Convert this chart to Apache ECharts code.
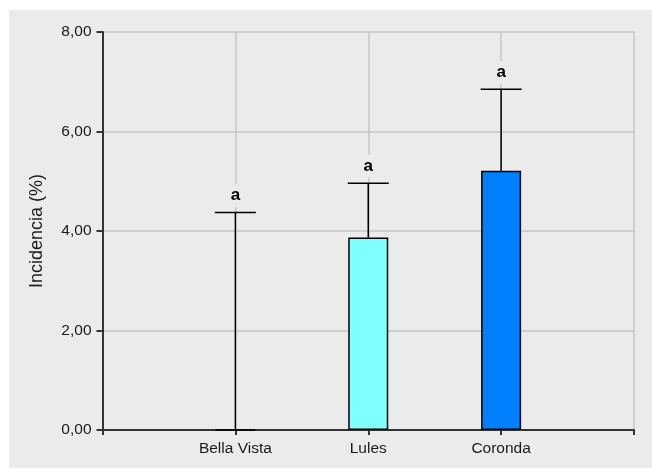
<!DOCTYPE html>
<html>
<head>
<meta charset="utf-8">
<script src="https://cdn.jsdelivr.net/npm/echarts@6/dist/echarts.min.js"></script>
<style>
  html, body { margin: 0; padding: 0; background: #ffffff; }
  #panel { position: absolute; left: 9px; top: 10px; width: 643px; height: 458px; background: #ebebeb; }
  #chart { position: absolute; left: 0; top: 0; width: 652px; height: 470px; }
</style>
</head>
<body>
<div id="panel"></div>
<div id="chart"></div>
<script>
// Incidencia media por localidad, con error superior y letra de significancia
const categories = ['Bella Vista', 'Lules', 'Coronda'];
const incidencia = [0, 3.87, 5.21];
const errorSuperior = [4.37, 4.96, 6.85];
const letras = ['a', 'a', 'a'];
const barColors = ['#80ffff', '#80ffff', '#0080ff'];
const yMin = 0, yMax = 8, yStep = 2;

const FONT = '"Liberation Sans", Arial, sans-serif';
const PANEL = '#ebebeb';

// empty slots at both ends so the categories sit at 1, 2, 3 of a 0..4 range
const axisCats = [''].concat(categories, ['']);
const barData = [null].concat(incidencia.map((v, i) => ({
  value: v,
  itemStyle: { color: barColors[i] }
})), [null]);
const errData = categories.map((c, i) => [i + 1, incidencia[i], errorSuperior[i], letras[i]]);

const fmt = v => v.toFixed(2).replace('.', ',');

const chart = echarts.init(document.getElementById('chart'), null, { renderer: 'canvas' });
chart.setOption({
  backgroundColor: 'transparent',
  animation: false,
  grid: { left: 102.5, right: 18, top: 32, bottom: 40, containLabel: false },
  xAxis: {
    type: 'category',
    data: axisCats,
    boundaryGap: false,
    axisLine: { show: true, lineStyle: { color: '#333333', width: 2 } },
    axisTick: { show: true, length: 5, lineStyle: { color: '#333333', width: 2 } },
    axisLabel: { color: '#1a1a1a', fontFamily: FONT, fontSize: 15.5, margin: 11 },
    splitLine: { show: true, lineStyle: { color: '#c6c6c6', width: 1.5 } }
  },
  yAxis: {
    type: 'value',
    min: yMin, max: yMax, interval: yStep,
    name: 'Incidencia (%)',
    nameLocation: 'middle',
    nameGap: 56,
    nameRotate: 90,
    nameTextStyle: { color: '#1a1a1a', fontFamily: FONT, fontSize: 18 },
    axisLine: { show: true, lineStyle: { color: '#333333', width: 2 } },
    axisTick: { show: true, length: 6, lineStyle: { color: '#333333', width: 2 } },
    axisLabel: { color: '#1a1a1a', fontFamily: FONT, fontSize: 15.5, margin: 11, formatter: fmt },
    splitLine: { show: true, lineStyle: { color: '#c6c6c6', width: 1.5 } }
  },
  series: [
    {
      type: 'bar',
      data: barData,
      barWidth: 40,
      itemStyle: { borderColor: '#000000', borderWidth: 1.5 },
      z: 2
    },
    {
      type: 'custom',
      data: errData,
      z: 3,
      renderItem: function (params, api) {
        const idx = api.value(0);
        const base = api.coord([idx, api.value(1)]);
        const top = api.coord([idx, api.value(2)]);
        const half = 20.5;
        return {
          type: 'group',
          children: [
            { type: 'line', shape: { x1: top[0], y1: base[1], x2: top[0], y2: top[1] },
              style: { stroke: '#000000', lineWidth: 1.5 } },
            { type: 'line', shape: { x1: top[0] - half, y1: top[1], x2: top[0] + half, y2: top[1] },
              style: { stroke: '#000000', lineWidth: 1.5 } },
            { type: 'text', x: top[0], y: top[1] - 17,
              style: { text: letras[params.dataIndex], align: 'center', verticalAlign: 'middle',
                       font: 'bold 17px ' + FONT, fill: '#000000',
                       backgroundColor: PANEL, padding: [3, 3] } }
          ]
        };
      }
    }
  ]
});
</script>
</body>
</html>
